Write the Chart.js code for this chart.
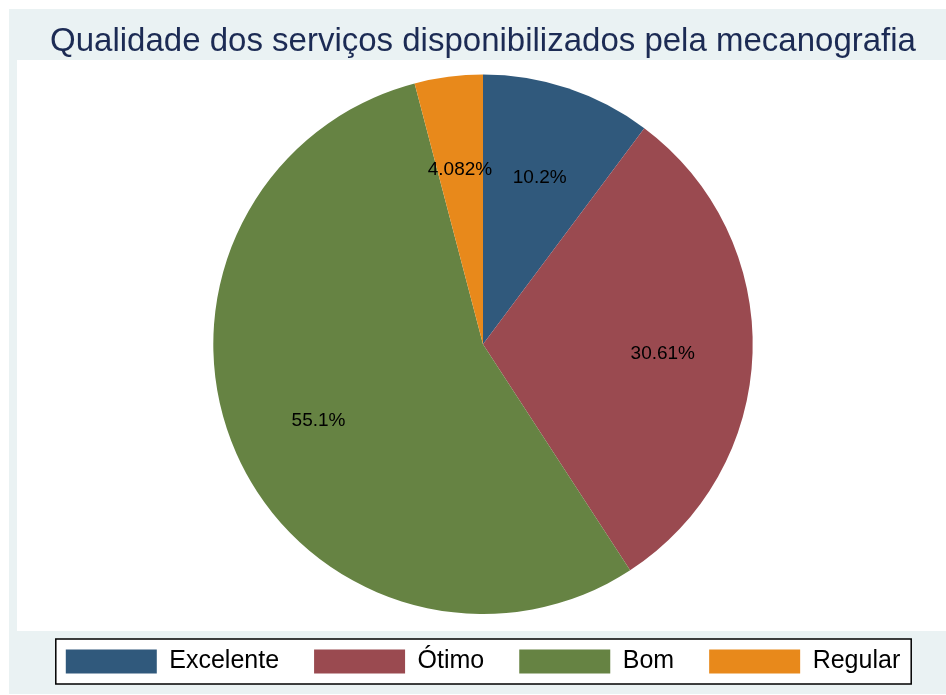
<!DOCTYPE html>
<html lang="pt">
<head>
    <meta charset="UTF-8">
    <title>Qualidade dos serviços disponibilizados pela mecanografia</title>
    <style>
        html, body {
            margin: 0;
            padding: 0;
            background: #ffffff;
        }
        #wrap {
            width: 946px;
            height: 695px;
        }
    </style>
</head>
<body>
    <div id="wrap">
        <canvas id="pie" width="946" height="695"></canvas>
    </div>

    <script src="https://cdn.jsdelivr.net/npm/chart.js"></script>
    <script>
        const categories = ['Excelente', 'Ótimo', 'Bom', 'Regular'];
        const counts = [5, 15, 27, 2];
        const sliceColors = ['#30597c', '#9a4a50', '#668343', '#e8891b'];
        const chartTitle = 'Qualidade dos serviços disponibilizados pela mecanografia';

        const total = counts.reduce((a, b) => a + b, 0);

        // Stata-like %9.4g percentage
        function pctLabel(v) {
            const p = v / total * 100;
            return Number(p.toPrecision(4)).toString() + '%';
        }

        // background panels + legend frame
        const backdrop = {
            id: 'backdrop',
            beforeDraw(chart) {
                const ctx = chart.ctx;
                ctx.save();
                ctx.fillStyle = '#ffffff';
                ctx.fillRect(0, 0, chart.width, chart.height);
                ctx.fillStyle = '#eaf2f3';
                ctx.fillRect(9, 9, chart.width - 9, chart.height - 10);
                ctx.fillStyle = '#ffffff';
                ctx.fillRect(17, 60, chart.width - 17, 571);

                const boxes = chart.legend.legendHitBoxes;
                if (boxes && boxes.length) {
                    const first = boxes[0];
                    const last = boxes[boxes.length - 1];
                    const mid = first.top + first.height / 2;
                    const x0 = first.left - 10;
                    const x1 = last.left + last.width + 11;
                    const y0 = mid - 22.5;
                    const y1 = mid + 22.5;
                    ctx.fillStyle = '#ffffff';
                    ctx.fillRect(x0, y0, x1 - x0, y1 - y0);
                    ctx.strokeStyle = '#000000';
                    ctx.lineWidth = 1.5;
                    ctx.strokeRect(x0, y0, x1 - x0, y1 - y0);
                }
                ctx.restore();
            }
        };

        // percentage labels inside the slices
        const sliceLabels = {
            id: 'sliceLabels',
            afterDatasetsDraw(chart) {
                const ctx = chart.ctx;
                const meta = chart.getDatasetMeta(0);
                ctx.save();
                ctx.font = '19px "Liberation Sans", Arial, sans-serif';
                ctx.fillStyle = '#000000';
                ctx.textAlign = 'center';
                ctx.textBaseline = 'middle';
                meta.data.forEach((arc, i) => {
                    const p = arc.getProps(['x', 'y', 'startAngle', 'endAngle', 'outerRadius'], true);
                    const mid = (p.startAngle + p.endAngle) / 2;
                    const r = p.outerRadius * 0.667;
                    ctx.fillText(pctLabel(counts[i]), p.x + Math.cos(mid) * r, p.y + Math.sin(mid) * r + 4);
                });
                ctx.restore();
            }
        };

        new Chart(document.getElementById('pie'), {
            type: 'pie',
            data: {
                labels: categories,
                datasets: [{
                    data: counts,
                    backgroundColor: sliceColors,
                    borderWidth: 0
                }]
            },
            options: {
                responsive: false,
                animation: false,
                events: [],
                layout: {
                    padding: { left: 20, right: 0, top: 0, bottom: 11 }
                },
                plugins: {
                    title: {
                        display: true,
                        text: chartTitle,
                        color: '#1c2b54',
                        font: { family: '"Liberation Sans", Arial, sans-serif', size: 33, weight: 'normal' },
                        padding: { top: 22, bottom: 13 }
                    },
                    legend: {
                        position: 'bottom',
                        labels: {
                            boxWidth: 91,
                            boxHeight: 24,
                            padding: 35,
                            color: '#000000',
                            font: { family: '"Liberation Sans", Arial, sans-serif', size: 25 }
                        }
                    },
                    tooltip: { enabled: false }
                }
            },
            plugins: [backdrop, sliceLabels]
        });
    </script>
</body>
</html>
